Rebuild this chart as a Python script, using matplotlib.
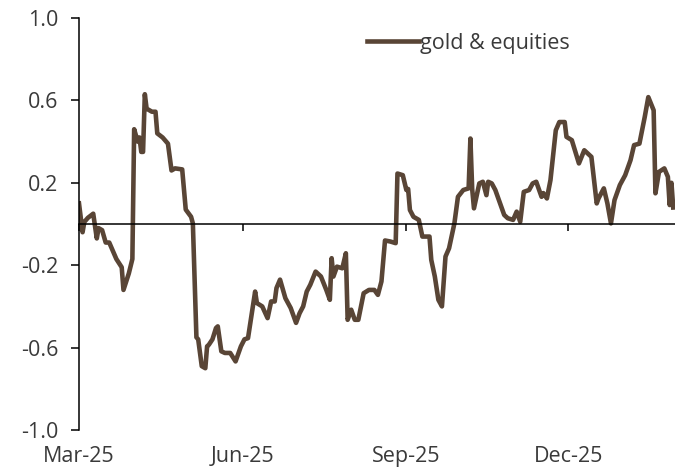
import matplotlib
matplotlib.use("Agg")
from matplotlib import pyplot as plt
import matplotlib.dates as mdates
import pandas as pd

# correlation of gold with equities
dates = [
  "2025-03-01", "2025-03-03", "2025-03-04", "2025-03-06", "2025-03-09", "2025-03-11",
  "2025-03-12", "2025-03-14", "2025-03-16", "2025-03-18", "2025-03-22", "2025-03-25",
  "2025-03-26", "2025-03-29", "2025-03-31", "2025-04-01", "2025-04-03", "2025-04-04",
  "2025-04-05", "2025-04-06", "2025-04-07", "2025-04-08", "2025-04-11", "2025-04-13",
  "2025-04-14", "2025-04-17", "2025-04-20", "2025-04-22", "2025-04-24", "2025-04-28",
  "2025-04-30", "2025-05-03", "2025-05-04", "2025-05-06", "2025-05-07", "2025-05-09",
  "2025-05-11", "2025-05-12", "2025-05-13", "2025-05-15", "2025-05-17", "2025-05-18",
  "2025-05-20", "2025-05-22", "2025-05-25", "2025-05-28", "2025-05-31", "2025-06-02",
  "2025-06-04", "2025-06-08", "2025-06-09", "2025-06-12", "2025-06-15", "2025-06-17",
  "2025-06-19", "2025-06-20", "2025-06-22", "2025-06-25", "2025-06-28", "2025-07-01",
  "2025-07-03", "2025-07-05", "2025-07-07", "2025-07-09", "2025-07-12", "2025-07-15",
  "2025-07-18", "2025-07-20", "2025-07-21", "2025-07-22", "2025-07-24", "2025-07-27",
  "2025-07-29", "2025-07-30", "2025-08-01", "2025-08-03", "2025-08-05", "2025-08-08",
  "2025-08-11", "2025-08-14", "2025-08-16", "2025-08-18", "2025-08-20", "2025-08-23",
  "2025-08-26", "2025-08-27", "2025-08-30", "2025-09-01", "2025-09-02", "2025-09-03",
  "2025-09-05", "2025-09-08", "2025-09-10", "2025-09-14", "2025-09-15", "2025-09-17",
  "2025-09-19", "2025-09-21", "2025-09-23", "2025-09-25", "2025-09-28", "2025-09-30",
  "2025-10-03", "2025-10-06", "2025-10-07", "2025-10-08", "2025-10-09", "2025-10-12",
  "2025-10-14", "2025-10-16", "2025-10-17", "2025-10-19", "2025-10-21", "2025-10-23",
  "2025-10-26", "2025-10-28", "2025-10-31", "2025-11-02", "2025-11-04", "2025-11-06",
  "2025-11-09", "2025-11-11", "2025-11-13", "2025-11-16", "2025-11-17", "2025-11-19",
  "2025-11-21", "2025-11-24", "2025-11-26", "2025-11-29", "2025-11-30", "2025-12-03",
  "2025-12-07", "2025-12-10", "2025-12-14", "2025-12-17", "2025-12-18", "2025-12-21",
  "2025-12-23", "2025-12-25", "2025-12-27", "2025-12-30", "2026-01-02", "2026-01-05",
  "2026-01-07", "2026-01-10", "2026-01-13", "2026-01-15", "2026-01-18", "2026-01-19",
  "2026-01-21", "2026-01-24", "2026-01-26", "2026-01-27", "2026-01-28", "2026-01-29",
]
gold_equities = [
  0.10, -0.04, 0.01, 0.03, 0.05, -0.07,
  -0.02, -0.03, -0.09, -0.09, -0.17, -0.21,
  -0.32, -0.24, -0.17, 0.46, 0.40, 0.42,
  0.35, 0.35, 0.63, 0.56, 0.545, 0.545,
  0.44, 0.42, 0.39, 0.26, 0.27, 0.265,
  0.07, 0.035, 0.003, -0.55, -0.56, -0.69,
  -0.70, -0.594, -0.586, -0.56, -0.505, -0.497,
  -0.618, -0.626, -0.626, -0.667, -0.594, -0.56,
  -0.554, -0.328, -0.384, -0.40, -0.457, -0.376,
  -0.376, -0.311, -0.27, -0.36, -0.408, -0.48,
  -0.433, -0.40, -0.328, -0.295, -0.231, -0.255,
  -0.32, -0.368, -0.166, -0.255, -0.207, -0.215,
  -0.142, -0.465, -0.416, -0.465, -0.465, -0.336,
  -0.32, -0.32, -0.344, -0.279, -0.08, -0.085,
  -0.093, 0.245, 0.237, 0.165, 0.17, 0.068,
  0.035, 0.02, -0.061, -0.061, -0.174, -0.255,
  -0.368, -0.40, -0.158, -0.118, 0.003, 0.132,
  0.165, 0.173, 0.415, 0.17, 0.076, 0.197,
  0.205, 0.14, 0.205, 0.197, 0.165, 0.116,
  0.044, 0.028, 0.02, 0.06, 0.011, 0.156,
  0.165, 0.197, 0.205, 0.132, 0.15, 0.124,
  0.213, 0.455, 0.495, 0.495, 0.423, 0.407,
  0.294, 0.358, 0.326, 0.10, 0.124, 0.173,
  0.10, 0.003, 0.116, 0.189, 0.237, 0.31,
  0.383, 0.39, 0.52, 0.616, 0.552, 0.149,
  0.253, 0.27, 0.229, 0.092, 0.20, 0.08,
]
x_ticks = ["2025-03-01", "2025-06-01", "2025-09-01", "2025-12-01"]
y_ticks = [-1.0, -0.6, -0.2, 0.2, 0.6, 1.0]

plt.rcParams['font.family'] = ['Open Sans', 'DejaVu Sans']
textColor = '#3a3a3a'
lineColor = '#594536'

fig = plt.figure(figsize=(6.75, 4.73), dpi=100)
ax = fig.add_axes([79 / 675, 1 - 430 / 473, 1 - 79 / 675, 412 / 473])

x = pd.to_datetime(dates)
ax.plot(x, gold_equities, color=lineColor, lw=3.3, label='gold & equities', solid_joinstyle='round')

ax.set_ylim(-1.0, 1.0)
ax.set_xlim(pd.Timestamp("2025-03-01"), pd.Timestamp("2026-01-30"))
ax.set_yticks(y_ticks)
ax.set_yticklabels(["%.1f" % v for v in y_ticks])
ax.set_xticks(pd.to_datetime(x_ticks))
ax.xaxis.set_major_formatter(mdates.DateFormatter('%b-%y'))

for side in ['top', 'right']:
  ax.spines[side].set_visible(False)
ax.spines['bottom'].set_position(('data', 0))
ax.spines['bottom'].set_color('black')
ax.spines['bottom'].set_linewidth(1.1)
ax.spines['left'].set_color('black')
ax.spines['left'].set_linewidth(1.1)

ax.tick_params(axis='y', length=6, width=1.1, pad=9, labelsize=15.5, labelcolor=textColor)
ax.tick_params(axis='x', length=5, width=1.1, pad=155, labelsize=15.5, labelcolor=textColor)

ax.legend(loc='upper left', bbox_to_anchor=(367 / 675, 1 - 33 / 473), bbox_transform=fig.transFigure,
          frameon=False, fontsize=15.5, handlelength=2.4, handletextpad=0.05, borderpad=0,
          borderaxespad=0, labelcolor=textColor)

plt.savefig('out.png', dpi=100)
